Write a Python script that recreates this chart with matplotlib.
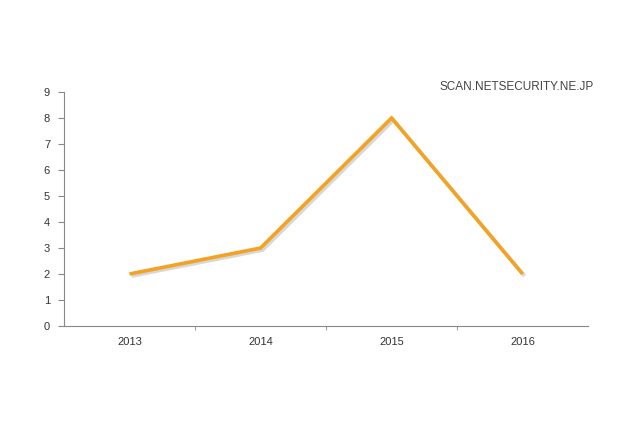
import matplotlib
matplotlib.use("Agg")
import matplotlib.pyplot as plt
import matplotlib.patheffects as pe

years = ["2013", "2014", "2015", "2016"]
values = [2, 3, 8, 2]
y_ticks = list(range(0, 10))

plt.rcParams['font.family'] = ['Liberation Sans', 'DejaVu Sans']

fig = plt.figure(figsize=(6.4, 4.26), dpi=100)
ax = fig.add_axes([0.1, 0.2347, 0.819, 0.5493])

x = list(range(len(years)))
ax.plot(x, values, color='#F3A222', lw=2.6, solid_joinstyle='miter', solid_capstyle='butt',
        path_effects=[pe.SimpleLineShadow(offset=(1.5, -1.5), shadow_color='#AAAAAA', alpha=0.45),
                      pe.Normal()])

ax.set_xlim(-0.5, len(years) - 0.5)
ax.set_ylim(0, 9)
ax.set_yticks(y_ticks)
ax.set_xticks(x)
ax.set_xticklabels(years)
ax.set_xticks([i + 0.5 for i in range(len(years) - 1)], minor=True)

for s in ['top', 'right']:
    ax.spines[s].set_visible(False)
for s in ['left', 'bottom']:
    ax.spines[s].set_color('#888888')
    ax.spines[s].set_linewidth(0.8)

ax.tick_params(axis='y', direction='out', length=4, color='#888888', labelsize=8,
               labelcolor='#333333', pad=6)
ax.tick_params(axis='x', which='major', length=0, labelsize=8, labelcolor='#333333', pad=8)
ax.tick_params(axis='x', which='minor', direction='out', length=3, color='#888888')

fig.text(0.927, 0.796, "SCAN.NETSECURITY.NE.JP", ha='right', va='center', fontsize=8.5,
         color='#444444', family=['Liberation Sans', 'DejaVu Sans'])

fig.savefig("out.png", dpi=100, facecolor='white')
